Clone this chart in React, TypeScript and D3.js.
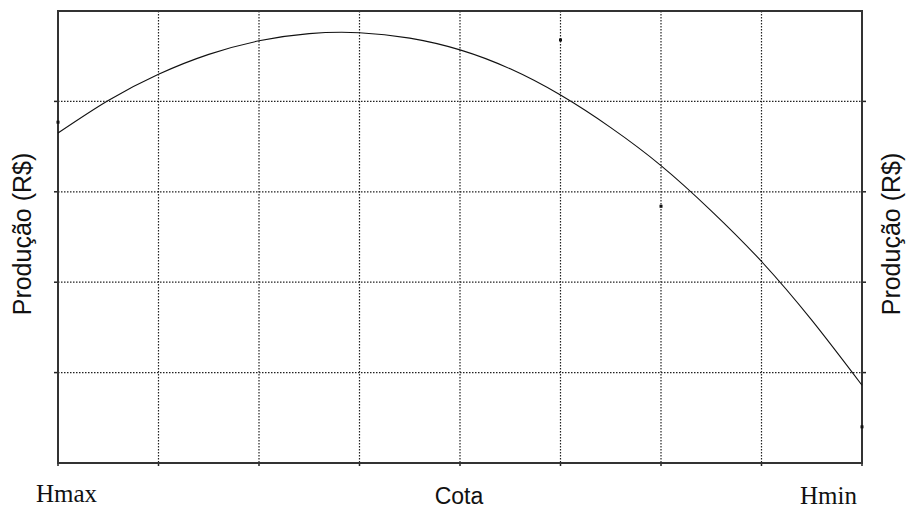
import React from "react";
import * as d3 from "d3";

const curveX = [0, 0.5, 1, 1.5, 2, 2.5, 3, 3.5, 4, 4.5, 5, 5.5, 6, 6.5, 7, 7.5, 8];
const curveY = [3.65, 4.01, 4.30, 4.52, 4.67, 4.75, 4.76, 4.70, 4.57, 4.36, 4.07, 3.71, 3.29, 2.79, 2.23, 1.58, 0.86];
const dotX = [0, 5, 6, 8];
const dotY = [3.77, 4.68, 2.84, 0.40];
const xGrid = [1, 2, 3, 4, 5, 6, 7];
const yGrid = [1, 2, 3, 4];
const yLabel = "Produção (R$)";
const xLabel = "Cota";
const leftLabel = "Hmax";
const rightLabel = "Hmin";

export default function App() {
  const W = 908, H = 510;
  const L = 58, R = 862, T = 11, B = 463;
  const x = d3.scaleLinear().domain([0, 8]).range([L, R]);
  const y = d3.scaleLinear().domain([0, 5]).range([B, T]);
  const pts: [number, number][] = curveX.map((v, i) => [v, curveY[i]]);
  const line = d3.line<[number, number]>().x(d => x(d[0])).y(d => y(d[1])).curve(d3.curveNatural);
  return (
    <svg width={W} height={H} style={{ position: "absolute", left: 0, top: 0, background: "#fff" }}>
      <rect x={0} y={0} width={W} height={H} fill="#fff" />
      {xGrid.map(g => (
        <line key={"xg" + g} x1={x(g)} x2={x(g)} y1={T} y2={B} stroke="#222" strokeWidth={1.2} strokeDasharray="1.5,1.5" />
      ))}
      {yGrid.map(g => (
        <line key={"yg" + g} x1={L} x2={R} y1={y(g)} y2={y(g)} stroke="#222" strokeWidth={1.2} strokeDasharray="1.5,1.5" />
      ))}
      {yGrid.map(g => (
        <g key={"yt" + g}>
          <line x1={L - 4} x2={L} y1={y(g)} y2={y(g)} stroke="#222" strokeWidth={1.5} />
          <line x1={R} x2={R + 4} y1={y(g)} y2={y(g)} stroke="#222" strokeWidth={1.5} />
        </g>
      ))}
      {[0, ...xGrid, 8].map(g => (
        <line key={"xt" + g} x1={x(g)} x2={x(g)} y1={B} y2={B + 3} stroke="#222" strokeWidth={1.5} />
      ))}
      <rect x={L} y={T} width={R - L} height={B - T} fill="none" stroke="#333" strokeWidth={2} />
      <path d={line(pts) || ""} fill="none" stroke="#111" strokeWidth={1.1} />
      {dotX.map((v, i) => (
        <rect key={"d" + i} x={x(v) - 1.5} y={y(dotY[i]) - 1.5} width={3} height={3} fill="#111" />
      ))}
      <text x={36} y={502} fontFamily="Liberation Serif, Times New Roman, serif" fontSize={25} fill="#111">{leftLabel}</text>
      <text x={459} y={504} textAnchor="middle" fontFamily="Liberation Sans, Arial, sans-serif" fontSize={23} fill="#111">{xLabel}</text>
      <text x={857} y={504} textAnchor="end" fontFamily="Liberation Serif, Times New Roman, serif" fontSize={25} fill="#111">{rightLabel}</text>
      <text transform={`translate(31,234) rotate(-90)`} textAnchor="middle" fontFamily="Liberation Sans, Arial, sans-serif" fontSize={25} fill="#111">{yLabel}</text>
      <text transform={`translate(900,234) rotate(-90)`} textAnchor="middle" fontFamily="Liberation Sans, Arial, sans-serif" fontSize={25} fill="#111">{yLabel}</text>
    </svg>
  );
}
